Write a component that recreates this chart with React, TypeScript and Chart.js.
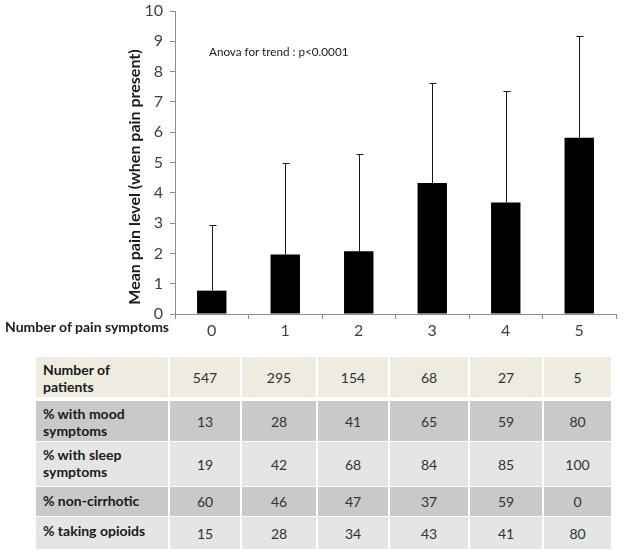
import React, { useEffect, useRef } from "react";
import { Chart, registerables } from "chart.js";

Chart.register(...registerables);

const categories = ["0", "1", "2", "3", "4", "5"];
const meanPain = [0.77, 1.96, 2.07, 4.32, 3.68, 5.82];
const sdPain = [2.18, 3.04, 3.2, 3.31, 3.69, 3.36];
const yTicks = [0, 1, 2, 3, 4, 5, 6, 7, 8, 9, 10];

const rowLabels = [
  ["Number of", "patients"],
  ["% with mood", "symptoms"],
  ["% with sleep", "symptoms"],
  ["% non-cirrhotic"],
  ["% taking opioids"],
];
const nPatients = [547, 295, 154, 68, 27, 5];
const pctMood = [13, 28, 41, 65, 59, 80];
const pctSleep = [19, 42, 68, 84, 85, 100];
const pctNonCirrhotic = [60, 46, 47, 37, 59, 0];
const pctOpioids = [15, 28, 34, 43, 41, 80];
const tableRows = [nPatients, pctMood, pctSleep, pctNonCirrhotic, pctOpioids];

const FONT = "Lato, 'Open Sans', sans-serif";

const colEdges = [36, 170, 242, 318, 390, 470, 544, 613];
const rowTops = [357, 401, 442, 487, 517];
const rowHeights = [40, 40, 44, 29, 32];
const rowColors = ["#eeebe0", "#c9c9c9", "#e5e5e5", "#c9c9c9", "#e5e5e5"];

export default function App() {
  const canvasRef = useRef<HTMLCanvasElement | null>(null);

  useEffect(() => {
    const canvas = canvasRef.current;
    if (!canvas) return;

    const errorBars = {
      id: "errorBars",
      afterDatasetsDraw(chart: any) {
        const ctx = chart.ctx;
        const meta = chart.getDatasetMeta(0);
        const ys = chart.scales.y;
        ctx.save();
        ctx.strokeStyle = "#1a1a1a";
        ctx.lineWidth = 1;
        meta.data.forEach((bar: any, i: number) => {
          const x = Math.round(bar.x) + 0.5;
          const yTop = Math.round(ys.getPixelForValue(meanPain[i] + sdPain[i])) + 0.5;
          const yBase = bar.y;
          ctx.beginPath();
          ctx.moveTo(x, yBase);
          ctx.lineTo(x, yTop);
          ctx.moveTo(x - 3, yTop);
          ctx.lineTo(x + 4, yTop);
          ctx.stroke();
        });
        ctx.restore();
      },
    };

    const yTitle = {
      id: "yTitle",
      afterDraw(chart: any) {
        const ctx = chart.ctx;
        ctx.save();
        ctx.translate(135, 177);
        ctx.rotate(-Math.PI / 2);
        ctx.font = `bold 16px ${FONT}`;
        ctx.fillStyle = "#1a1a1a";
        ctx.textAlign = "center";
        ctx.textBaseline = "middle";
        ctx.fillText("Mean pain level (when pain present)", 0, 0);
        ctx.restore();
      },
    };

    const chart = new Chart(canvas, {
      type: "bar",
      data: {
        labels: categories,
        datasets: [
          {
            data: meanPain,
            backgroundColor: "#000000",
            borderWidth: 0,
            categoryPercentage: 1,
            barPercentage: 0.4,
          },
        ],
      },
      options: {
        animation: false,
        responsive: true,
        maintainAspectRatio: false,
        layout: { padding: { top: 11, left: 0, right: 8, bottom: 0 } },
        plugins: {
          legend: { display: false },
          tooltip: { enabled: false },
          title: { display: false },
        },
        scales: {
          x: {
            offset: true,
            grid: {
              offset: true,
              drawOnChartArea: false,
              drawTicks: true,
              tickLength: 5,
              color: "#8c8c8c",
            },
            border: { color: "#8c8c8c" },
            ticks: {
              font: { family: FONT, size: 16 },
              color: "#404040",
              padding: 2,
            },
            afterFit: (s: any) => {
              s.height = 31;
            },
          },
          y: {
            min: 0,
            max: 10,
            afterBuildTicks: (s: any) => {
              s.ticks = yTicks.map((v) => ({ value: v }));
            },
            grid: {
              drawOnChartArea: false,
              drawTicks: true,
              tickLength: 5,
              color: "#8c8c8c",
            },
            border: { color: "#8c8c8c" },
            ticks: {
              font: { family: FONT, size: 16 },
              color: "#404040",
              padding: 7,
            },
            afterFit: (s: any) => {
              s.width = 175;
              s.paddingTop = 0;
              s.paddingBottom = 0;
            },
          },
        },
      },
      plugins: [errorBars, yTitle],
    });

    return () => chart.destroy();
  }, []);

  return (
    <div
      style={{
        position: "absolute",
        left: 0,
        top: 0,
        width: 624,
        height: 554,
        background: "#ffffff",
        fontFamily: FONT,
      }}
    >
      <div style={{ position: "absolute", left: 0, top: 0, width: 624, height: 345 }}>
        <canvas ref={canvasRef} />
      </div>
      <div
        style={{
          position: "absolute",
          left: 209,
          top: 44,
          fontSize: 11.7,
          color: "#1a1a1a",
          whiteSpace: "nowrap",
        }}
      >
        Anova for trend : p&lt;0.0001
      </div>
      <div
        style={{
          position: "absolute",
          left: 5,
          top: 318,
          fontSize: 14,
          fontWeight: "bold",
          color: "#1a1a1a",
          whiteSpace: "nowrap",
        }}
      >
        Number of pain symptoms
      </div>
      {tableRows.map((row, r) => (
        <React.Fragment key={r}>
          <div
            style={{
              position: "absolute",
              left: colEdges[0],
              top: rowTops[r],
              width: colEdges[1] - colEdges[0] - 2,
              height: rowHeights[r],
              background: rowColors[r],
              fontSize: 14,
              fontWeight: "bold",
              color: "#1a1a1a",
              lineHeight: "17px",
              boxSizing: "border-box",
              padding: rowLabels[r].length > 1 ? "4px 0 0 7px" : "5px 0 0 7px",
              whiteSpace: "nowrap",
            }}
          >
            {rowLabels[r].map((t, k) => (
              <div key={k}>{t}</div>
            ))}
          </div>
          {row.map((v, c) => (
            <div
              key={c}
              style={{
                position: "absolute",
                left: colEdges[c + 1],
                top: rowTops[r],
                width: colEdges[c + 2] - colEdges[c + 1] - 2,
                height: rowHeights[r],
                background: rowColors[r],
                fontSize: 14,
                color: "#333333",
                display: "flex",
                alignItems: "center",
                justifyContent: "center",
              }}
            >
              {v}
            </div>
          ))}
        </React.Fragment>
      ))}
    </div>
  );
}
